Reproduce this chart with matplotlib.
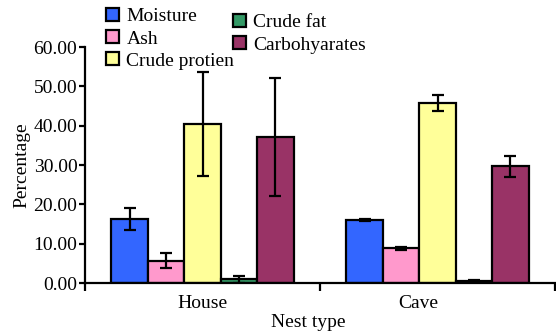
import matplotlib.pyplot as plt
import numpy as np
from matplotlib.transforms import offset_copy


# ============================================================
# Proximate composition by nest type
# ============================================================

nest_types = ["House", "Cave"]

components = [
    "Moisture",
    "Ash",
    "Crude protien",
    "Crude fat",
    "Carbohyarates",
]

house_mean = [16.3, 5.7, 40.4, 0.9, 37.2]
house_sd = [2.7, 2.0, 13.2, 0.8, 15.0]

cave_mean = [16.0, 8.8, 45.8, 0.5, 29.7]
cave_sd = [0.3, 0.4, 2.0, 0.2, 2.7]

colors = ["#3366ff", "#ff99cc", "#ffff99", "#339966", "#993366"]

y_ticks = [0, 10, 20, 30, 40, 50, 60]


plt.rcParams["font.family"] = ["Liberation Serif", "DejaVu Serif"]
plt.rcParams["font.size"] = 14

fig = plt.figure(figsize=(5.56, 3.32), dpi=100)
ax = fig.add_axes([85 / 556, 49 / 332, 470 / 556, 236 / 332])

means = np.array([house_mean, cave_mean])
sds = np.array([house_sd, cave_sd])

x = np.arange(len(nest_types))
width = 0.155

handles = []
for i, comp in enumerate(components):
    pos = x + (i - 2) * width
    bars = ax.bar(
        pos,
        means[:, i],
        width=width,
        color=colors[i],
        edgecolor="black",
        linewidth=1.6,
        label=comp,
        zorder=2,
    )
    ax.errorbar(
        pos,
        means[:, i],
        yerr=sds[:, i],
        fmt="none",
        ecolor="black",
        elinewidth=1.6,
        capsize=4,
        capthick=1.6,
        zorder=3,
    )
    handles.append(bars)

ax.set_xlim(-0.5, 1.5)
ax.set_ylim(0, 60)

ax.set_yticks(y_ticks)
ax.set_yticklabels([f"{v:.2f}" for v in y_ticks])

ax.set_xticks(x)
ax.set_xticklabels(nest_types)
ax.set_xticks([-0.5, 0.5, 1.5], minor=True)
ax.tick_params(axis="x", which="major", length=0, pad=9)
ax.tick_params(axis="x", which="minor", length=5.5, width=1.6)
ax.tick_params(axis="y", length=4.5, width=1.6, pad=1)

# the Cave label sits a little left of its group
cave_label = ax.get_xticklabels()[1]
cave_label.set_transform(
    offset_copy(cave_label.get_transform(), fig=fig, x=-19, y=0, units="dots")
)

for side in ["top", "right"]:
    ax.spines[side].set_visible(False)
for side in ["left", "bottom"]:
    ax.spines[side].set_linewidth(1.6)

ax.set_ylabel("Percentage", labelpad=2)
ax.set_xlabel("Nest type", labelpad=2)
ax.xaxis.set_label_coords(0.474, -0.13)


# ============================================================
# Legends
# ============================================================

leg_kw = dict(
    frameon=False,
    loc="upper left",
    handlelength=0.65,
    handleheight=0.65,
    handletextpad=0.4,
    labelspacing=0.25,
    borderpad=0,
    borderaxespad=0,
    fontsize=14,
)

fig.legend(
    handles[:3],
    components[:3],
    bbox_to_anchor=(106 / 556, 1 - 8 / 332),
    **leg_kw,
)
fig.legend(
    handles[3:],
    components[3:],
    bbox_to_anchor=(233 / 556, 1 - 14 / 332),
    **leg_kw,
)

fig.savefig("out.png", dpi=100)
